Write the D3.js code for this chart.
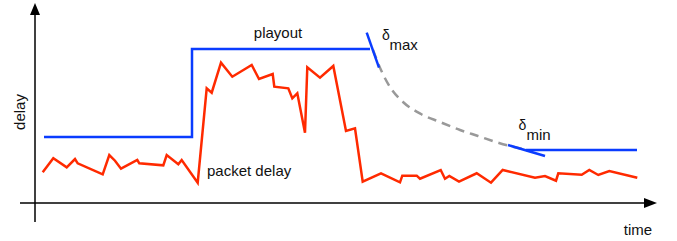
<!DOCTYPE html>
<html><head><meta charset="utf-8">
<script src="https://cdn.jsdelivr.net/npm/d3@7"></script>
<style>html,body{margin:0;padding:0;background:#fff;}svg{display:block;}</style>
</head><body>
<svg id="c" width="677" height="241"></svg>
<script>
// data in (time, delay) units
const packetDelay = [[7.7,30.7],[18.3,44.7],[31.7,35.7],[40,44],[42.7,39.7],[67.7,28.7],[74.3,48],[80,42.3],[86,34.3],[102.3,43],[104.3,39.7],[128.3,37.7],[131.7,48],[143.3,38.7],[146.7,43],[162.7,20.3],[171.7,114.7],[176.7,110.3],[186,140.3],[197.3,126.3],[216.7,138],[224,124],[237.7,129],[239.3,116.3],[253.3,114.7],[257.3,104.7],[262.3,109.7],[270,70.3],[272.3,135.7],[285,125.3],[298.3,137],[311,72],[320,74.7],[327.7,21.3],[346,29.7],[365,20.7],[367.3,27.3],[381.7,27.3],[385,24.3],[405.7,33],[410,24.3],[414.3,27],[424,21.3],[441.7,29.7],[456,20.3],[467.7,33],[500,25.3],[510,27],[521,22.3],[523.3,29.7],[546.7,28.3],[554.3,33],[563.3,28],[574.3,32],[602.3,25.3]];
const playoutA = [[9,66],[157,66],[157,154],[335,154]];
const playoutB = [[491,53],[602,53]];
const decay = [[338,153],[346,133],[355,116],[368,101],[386,89],[405,81],[425,73],[443,67],[464,60],[492,53]];
const tangentMax = [[331.7,170.3],[344,135.3]];
const tangentMin = [[473,58],[510,47]];
const labels = {playout:"playout", packet:"packet delay", xAxis:"time", yAxis:"delay"};

const svg = d3.select("#c");
const x = d3.scaleLinear().domain([0,622]).range([35,657]);
const y = d3.scaleLinear().domain([0,200]).range([203,3]);
const line = d3.line().x(d=>x(d[0])).y(d=>y(d[1]));

const RED="#ff2a00", BLUE="#0a3cff", GRAY="#999999";

// axes
svg.append("line").attr("x1",x(-15)).attr("x2",x(609)).attr("y1",y(0)).attr("y2",y(0)).attr("stroke","#000").attr("stroke-width",1.5);
svg.append("line").attr("x1",x(0)).attr("x2",x(0)).attr("y1",y(-19)).attr("y2",y(188)).attr("stroke","#000").attr("stroke-width",1.5);
svg.append("path").attr("d",`M${x(622)},${y(0)} L${x(609)},${y(0)-5} L${x(609)},${y(0)+5} Z`).attr("fill","#000");
svg.append("path").attr("d",`M${x(0)},${y(200)} L${x(0)-5},${y(188)} L${x(0)+5},${y(188)} Z`).attr("fill","#000");

// decay curve
svg.append("path").attr("d",line.curve(d3.curveMonotoneX)(decay)).attr("fill","none")
  .attr("stroke",GRAY).attr("stroke-width",2.5).attr("stroke-dasharray","9,6");
line.curve(d3.curveLinear);

// playout
[playoutA, playoutB, tangentMax, tangentMin].forEach(p=>{
  svg.append("path").attr("d",line(p)).attr("fill","none").attr("stroke",BLUE).attr("stroke-width",2.5).attr("stroke-linejoin","miter");
});

// packet delay
svg.append("path").attr("d",line(packetDelay)).attr("fill","none").attr("stroke",RED).attr("stroke-width",2.5).attr("stroke-linejoin","miter");

const F = "Liberation Sans, Arial, Helvetica, sans-serif";
function txt(t,px,py,size,anchor){ return svg.append("text").attr("x",px).attr("y",py).attr("font-family",F).attr("font-size",size).attr("fill","#111").attr("text-anchor",anchor||"start").text(t); }
txt(labels.playout,278,38,15,"middle");
txt(labels.packet,207,176,15);
txt(labels.xAxis,638,235,15,"middle");
svg.append("text").attr("transform","translate(25,112) rotate(-90)").attr("font-family",F).attr("font-size",15).attr("fill","#111").attr("text-anchor","middle").text(labels.yAxis);
txt("δ",382,40,14); txt("max",389.5,50,15);
txt("δ",518.5,130,14); txt("min",526.5,140,15);
</script>
</body></html>
